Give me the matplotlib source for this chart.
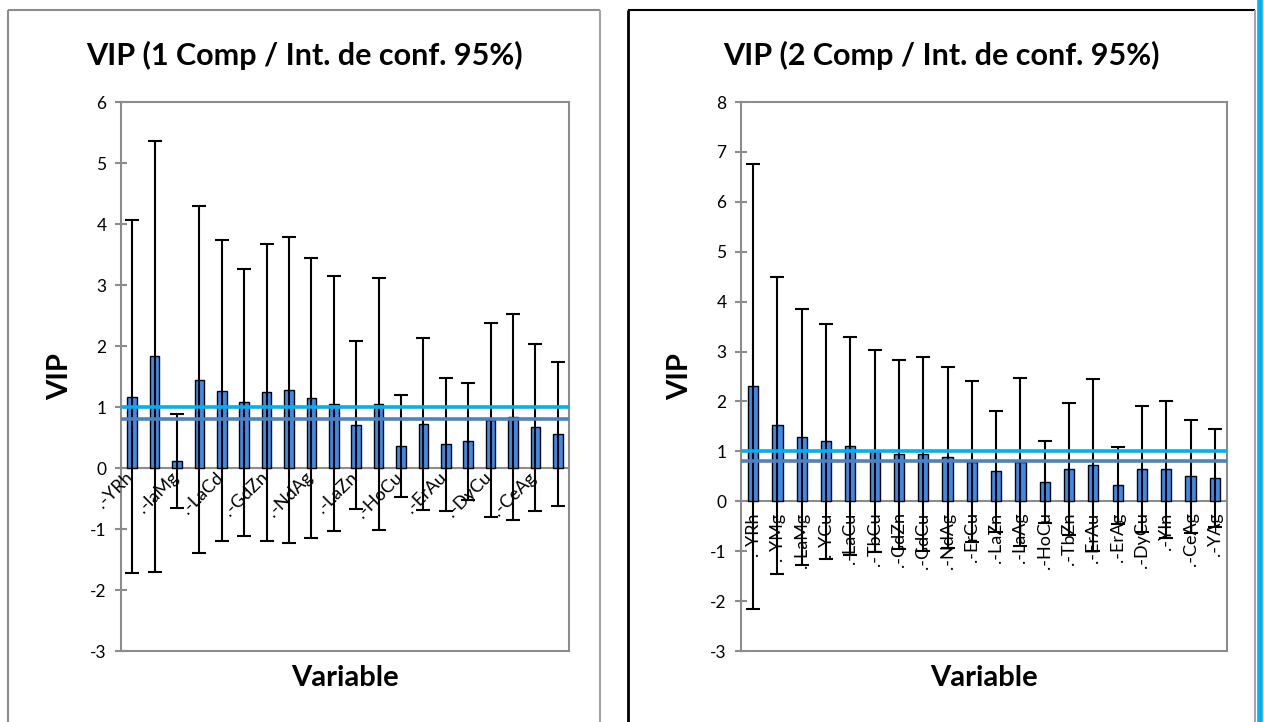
import matplotlib.pyplot as plt
from matplotlib.lines import Line2D

plt.rcParams['font.family'] = ['Lato', 'DejaVu Sans']
plt.rcParams['axes.unicode_minus'] = False

# VIP, 1 component: 20 variables, labels shown for every other one
labels_1 = ['YRh', 'laMg', 'LaCd', 'GdZn', 'NdAg', 'LaZn', 'HoCu', 'ErAu', 'DyCu', 'CeAg']
vip_1 = [1.17, 1.83, 0.12, 1.45, 1.27, 1.08, 1.24, 1.28, 1.15, 1.05,
         0.70, 1.05, 0.36, 0.72, 0.39, 0.44, 0.79, 0.84, 0.67, 0.55]
err_1 = [2.89, 3.53, 0.77, 2.84, 2.47, 2.19, 2.43, 2.51, 2.29, 2.09,
         1.38, 2.06, 0.84, 1.41, 1.09, 0.96, 1.59, 1.69, 1.37, 1.18]

# VIP, 2 components
labels_2 = ['YRh', 'YMg', 'LaMg', 'YCu', 'LaCu', 'TbCu', 'GdZn', 'GdCu', 'NdAg', 'ErCu',
            'LaZn', 'LaAg', 'HoCu', 'TbZn', 'ErAu', 'ErAg', 'DyCu', 'YIn', 'CeAg', 'YAg']
vip_2 = [2.30, 1.52, 1.29, 1.20, 1.11, 1.01, 0.94, 0.95, 0.88, 0.79,
         0.60, 0.78, 0.38, 0.65, 0.72, 0.32, 0.64, 0.64, 0.50, 0.46]
err_2 = [4.45, 2.98, 2.56, 2.35, 2.18, 2.02, 1.89, 1.95, 1.82, 1.61,
         1.21, 1.68, 0.82, 1.32, 1.72, 0.77, 1.26, 1.37, 1.13, 0.98]

thresholds = [1.0, 0.8]
threshold_colors = ['#00B0F0', '#4F81BD']

W, H = 1264, 722
fig = plt.figure(figsize=(W / 100, H / 100), dpi=100)


def px_rect(left, top, right, bottom):
    return [left / W, 1 - bottom / H, (right - left) / W, (bottom - top) / H]


def fline(xs, ys, color, lw):
    fig.add_artist(Line2D([x / W for x in xs], [1 - y / H for y in ys],
                          color=color, lw=lw, solid_capstyle='butt'))


grey = '#8C8C8C'


def vip_panel(ax, vip, err, ylim, title_x, title):
    x = list(range(len(vip)))
    ax.bar(x, vip, width=0.42, color='#3B8BEB', edgecolor='black', linewidth=1.0, zorder=2)
    ax.errorbar(x, vip, yerr=err, fmt='none', ecolor='black', elinewidth=1.5,
                capsize=5, capthick=1.5, zorder=3)
    ax.axhline(0, color=grey, lw=1.5, zorder=1)
    for t, c in zip(thresholds, threshold_colors):
        ax.axhline(t, color=c, lw=2.6, zorder=4)
    ax.set_xlim(-0.5, len(vip) - 0.5)
    ax.set_ylim(*ylim)
    ax.set_yticks(range(ylim[0], ylim[1] + 1))
    ax.set_xticks([])
    ax.tick_params(axis='y', direction='inout', length=9, width=1.5, color=grey,
                   labelsize=12.5, pad=6)
    for s in ax.spines.values():
        s.set_color(grey)
        s.set_linewidth(1.5)
    ax.set_ylabel('VIP', fontsize=21, fontweight='bold', labelpad=12)
    ax.set_xlabel('Variable', fontsize=21, fontweight='bold', labelpad=10)
    fig.text(title_x / W, 1 - 55 / H, title, fontsize=22, fontweight='bold',
             ha='center', va='center')


ax1 = fig.add_axes(px_rect(121, 102, 569, 651))
vip_panel(ax1, vip_1, err_1, (-3, 6), 304, 'VIP (1 Comp / Int. de conf. 95%)')
for i, name in enumerate(labels_1):
    ax1.annotate('.-' + name, (2 * i, 0), xytext=(3, -1), textcoords='offset points',
                 rotation=45, ha='right', va='top', fontsize=13, zorder=5)

ax2 = fig.add_axes(px_rect(741, 102, 1227, 651))
vip_panel(ax2, vip_2, err_2, (-3, 8), 941, 'VIP (2 Comp / Int. de conf. 95%)')
for i, name in enumerate(labels_2):
    ax2.annotate('.-' + name, (i, 0), xytext=(0, -8), textcoords='offset points',
                 rotation=90, ha='center', va='top', fontsize=13, zorder=5)

# chart frames
fline([8, 8], [722, 10], '#8C8C8C', 1.5)
fline([8, 600], [10, 10], '#8C8C8C', 1.5)
fline([600, 600], [10, 722], '#A6A6A6', 1.5)
fline([628, 628], [722, 10], 'black', 2)
fline([628, 1255], [10, 10], 'black', 1.5)
fline([1255, 1255], [10, 722], '#A6A6A6', 1.5)
fline([1260, 1260], [0, 722], '#00B0F0', 4)

fig.savefig('out.png', dpi=100)
